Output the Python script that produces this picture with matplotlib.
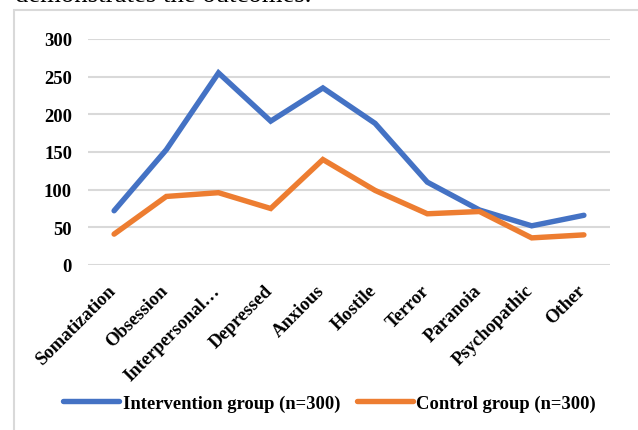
import matplotlib
matplotlib.use("Agg")
import matplotlib.pyplot as plt
from matplotlib.patches import Rectangle
from matplotlib.transforms import ScaledTranslation

categories = ["Somatization", "Obsession", "Interpersonal\u2026", "Depressed", "Anxious",
              "Hostile", "Terror", "Paranoia", "Psychopathic", "Other"]
intervention = [72, 153, 255, 191, 235, 188, 110, 73, 52, 66]
control = [41, 91, 96, 75, 140, 99, 68, 71, 36, 40]
yticks = [0, 50, 100, 150, 200, 250, 300]

W, H = 638, 431
fig = plt.figure(figsize=(W / 100, H / 100), dpi=100)
font = "Liberation Serif"
fs = 13.4

# chart frame
fig.patches.append(Rectangle((14 / W, -0.1), 1.2, 1 - 11 / H + 0.1, transform=fig.transFigure,
                             fill=False, edgecolor="#d9d9d9", linewidth=1.5))
# tail of the paragraph above the chart
fig.text(15 / W, 1 - 1.5 / H, "demonstrates the outcomes.", family=font, fontsize=19.3,
         va="baseline", ha="left", color="black")

ax = fig.add_axes([88 / W, 1 - 266 / H, (610 - 88) / W, (266 - 40) / H])
x = range(len(categories))
ax.plot(x, intervention, color="#4472C4", linewidth=3.9, solid_joinstyle="miter",
        solid_capstyle="round", label="Intervention group (n=300)", zorder=3)
ax.plot(x, control, color="#ED7D31", linewidth=3.9, solid_joinstyle="miter",
        solid_capstyle="round", label="Control group (n=300)", zorder=3)

ax.set_xlim(-0.5, len(categories) - 0.5)
ax.set_ylim(0, 300)
ax.set_yticks(yticks)
ax.set_yticklabels([str(v) for v in yticks], family=font, fontweight="bold", fontsize=fs)
ax.set_xticks(list(x))
ax.set_xticklabels(categories, family=font, fontweight="bold", fontsize=fs,
                   rotation=45, ha="right", rotation_mode="anchor")
ax.tick_params(axis="both", length=0)
ax.tick_params(axis="y", pad=11.5)
ax.tick_params(axis="x", pad=12)
shift = ScaledTranslation(-5 / 72, 0, fig.dpi_scale_trans)
for lab in ax.get_xticklabels():
    lab.set_transform(lab.get_transform() + shift)
ax.grid(axis="y", color="#d9d9d9", linewidth=1.5)
ax.set_axisbelow(True)
for s in ax.spines.values():
    s.set_visible(False)

fig.legend(loc="center left", bbox_to_anchor=(63 / W, 1 - 404 / H), ncol=2, frameon=False,
           prop={"family": font, "weight": "bold", "size": fs},
           borderpad=0, borderaxespad=0,
           handlelength=3.0, handletextpad=0.2, columnspacing=0.9)

fig.savefig("out.png", dpi=100)
